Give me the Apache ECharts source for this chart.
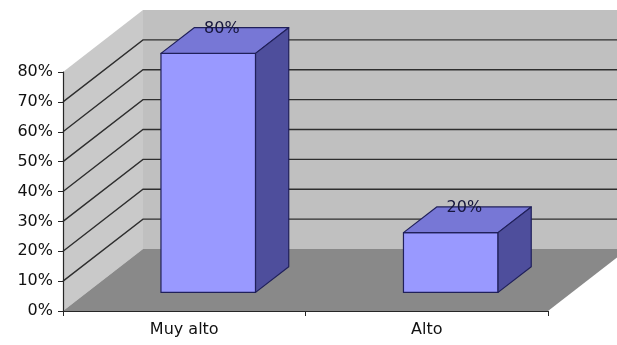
<!DOCTYPE html>
<html>
<head>
<meta charset="utf-8">
<script src="https://cdn.jsdelivr.net/npm/echarts@6/dist/echarts.min.js"></script>
<style>
  html, body { margin: 0; padding: 0; background: #ffffff; }
  #chart { width: 617px; height: 345px; }
</style>
</head>
<body>
<div id="chart"></div>
<script>
// Chart data
const categories = ['Muy alto', 'Alto'];
const values = [80, 20];
const axisMax = 80;
const axisStep = 10;
const wallLevels = [10, 20, 30, 40, 50, 60, 70];

// Pseudo-3D geometry (pixels / fractions)
const DEPTH = [80, -62];        // offset from the front plane to the back wall
const BAR_FRONT = 0.3;          // bar front face position along the depth
const BAR_DEPTH = 0.415;        // bar thickness along the depth
const BAR_WIDTH = 0.39;         // bar width as a share of the category band

const FONT = 'DejaVu Sans';
const TEXT = '#111111';

function off(p, k) {
  return [p[0] + DEPTH[0] * k, p[1] + DEPTH[1] * k];
}

// Back wall, side wall and floor of the plot box
function renderWalls(params, api) {
  const cs = params.coordSys;
  const x0 = cs.x, x1 = cs.x + cs.width;
  const yb = api.coord([0, 0])[1];
  const yt = api.coord([0, axisMax])[1];
  const fl = [x0, yb], fr = [x1, yb], tl = [x0, yt], tr = [x1, yt];
  return {
    type: 'group',
    children: [
      { type: 'polygon', shape: { points: [off(tl, 1), off(tr, 1), off(fr, 1), off(fl, 1)] },
        style: { fill: '#c0c0c0' } },
      { type: 'polygon', shape: { points: [tl, off(tl, 1), off(fl, 1), fl] },
        style: { fill: '#c9c9c9' } },
      { type: 'polygon', shape: { points: [fl, fr, off(fr, 1), off(fl, 1)] },
        style: { fill: '#898989' } }
    ]
  };
}

// Gridline running across the side wall and along the back wall
function renderWallLine(params, api) {
  const cs = params.coordSys;
  const x0 = cs.x, x1 = cs.x + cs.width;
  const y = api.coord([0, api.value(0)])[1];
  return {
    type: 'polyline',
    shape: { points: [[x0, y], off([x0, y], 1), off([x1, y], 1)] },
    style: { stroke: '#2e2e2e', lineWidth: 1.4, fill: null }
  };
}

// One box-shaped column with its value label
function renderBar(params, api) {
  const idx = api.value(0);
  const v = api.value(1);
  const band = api.size([1, 0])[0];
  const w = band * BAR_WIDTH;
  const c = api.coord([idx, 0]);
  const top = api.coord([idx, v])[1];
  const bl = off([c[0] - w / 2, c[1]], BAR_FRONT);
  const br = off([c[0] + w / 2, c[1]], BAR_FRONT);
  const tl = off([c[0] - w / 2, top], BAR_FRONT);
  const tr = off([c[0] + w / 2, top], BAR_FRONT);
  const stroke = { stroke: '#20205a', lineWidth: 1.2, lineJoin: 'round' };
  // label sits on the back edge of the top face, centred along the depth
  const mid = off([(tl[0] + tr[0]) / 2, tl[1]], BAR_DEPTH / 2);
  const back = off(tl, BAR_DEPTH);
  return {
    type: 'group',
    children: [
      { type: 'polygon', shape: { points: [tl, bl, br, tr] },
        style: Object.assign({ fill: '#9999ff' }, stroke) },
      { type: 'polygon', shape: { points: [tl, tr, off(tr, BAR_DEPTH), off(tl, BAR_DEPTH)] },
        style: Object.assign({ fill: '#7777d6' }, stroke) },
      { type: 'polygon', shape: { points: [tr, br, off(br, BAR_DEPTH), off(tr, BAR_DEPTH)] },
        style: Object.assign({ fill: '#4e4e9c' }, stroke) },
      { type: 'text', x: mid[0] - 3, y: back[1] + 1,
        style: { text: v + '%', fill: '#16163c', font: '16px "' + FONT + '"',
                 align: 'center', verticalAlign: 'middle' } }
    ]
  };
}

const chart = echarts.init(document.getElementById('chart'), null, { renderer: 'canvas' });
chart.setOption({
  animation: false,
  backgroundColor: '#ffffff',
  grid: { left: 63, right: 69, top: 72, bottom: 34, containLabel: false },
  xAxis: {
    type: 'category',
    data: categories,
    z: 10,
    axisLine: { show: true, lineStyle: { color: '#262626', width: 1.2 } },
    axisTick: { show: true, alignWithLabel: false, interval: 0, length: 5, lineStyle: { color: '#262626' } },
    axisLabel: { margin: 11, color: TEXT, fontFamily: FONT, fontSize: 16 },
    splitLine: { show: false }
  },
  yAxis: {
    type: 'value',
    min: 0,
    max: axisMax,
    interval: axisStep,
    z: 10,
    axisLine: { show: true, lineStyle: { color: '#262626', width: 1.2 } },
    axisTick: { show: true, length: 5, lineStyle: { color: '#262626' } },
    axisLabel: { margin: 10, color: TEXT, fontFamily: FONT, fontSize: 16, formatter: '{value}%' },
    splitLine: { show: false }
  },
  series: [
    { type: 'custom', z: 1, renderItem: renderWalls, data: [[0, 0]], silent: true },
    { type: 'custom', z: 2, renderItem: renderWallLine, data: wallLevels.map(v => [v]),
      encode: { y: 0 }, silent: true },
    { type: 'custom', z: 3, renderItem: renderBar, data: values.map((v, i) => [i, v]),
      encode: { x: 0, y: 1 } }
  ]
});
</script>
</body>
</html>
